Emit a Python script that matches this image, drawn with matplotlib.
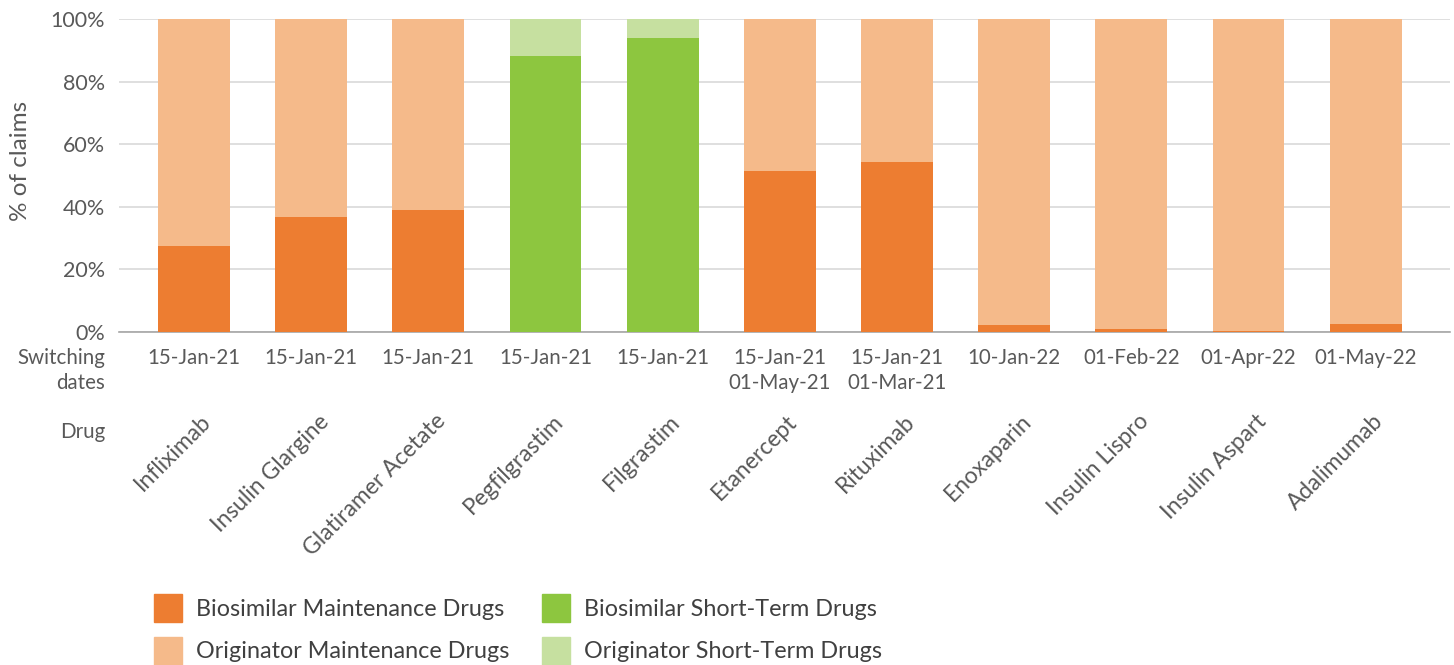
import matplotlib
matplotlib.use("Agg")
import matplotlib.pyplot as plt
from matplotlib.transforms import blended_transform_factory
from matplotlib.patches import Rectangle
import numpy as np

plt.rcParams['font.family'] = ['Lato', 'DejaVu Sans']

drugs = ["Infliximab", "Insulin Glargine", "Glatiramer Acetate", "Pegfilgrastim",
         "Filgrastim", "Etanercept", "Rituximab", "Enoxaparin", "Insulin Lispro",
         "Insulin Aspart", "Adalimumab"]
switch_dates = ["15-Jan-21", "15-Jan-21", "15-Jan-21", "15-Jan-21", "15-Jan-21",
                "15-Jan-21\n01-May-21", "15-Jan-21\n01-Mar-21", "10-Jan-22",
                "01-Feb-22", "01-Apr-22", "01-May-22"]
bio_maint = [27.5, 36.7, 39.0, 0, 0, 51.4, 54.3, 2.2, 1.0, 0.2, 2.5]
orig_maint = [72.5, 63.3, 61.0, 0, 0, 48.6, 45.7, 97.8, 99.0, 99.8, 97.5]
bio_short = [0, 0, 0, 88.2, 94.0, 0, 0, 0, 0, 0, 0]
orig_short = [0, 0, 0, 11.8, 6.0, 0, 0, 0, 0, 0, 0]

c_bm = "#ED7D31"
c_om = "#F5BA8A"
c_bs = "#8DC63F"
c_os = "#C6E0A0"
txt = "#595959"
txt_leg = "#404040"
FS = 14.8

W, H = 1454, 665
fig = plt.figure(figsize=(W/100, H/100), dpi=100)
ax = fig.add_axes([119/W, 1-332/H, (1450-119)/W, (332-19)/H])

x = np.arange(len(drugs))
bw = 0.614
bm = np.array(bio_maint); om = np.array(orig_maint)
bs = np.array(bio_short); os_ = np.array(orig_short)
ax.bar(x, bm, bw, color=c_bm, zorder=3)
ax.bar(x, om, bw, bottom=bm, color=c_om, zorder=3)
ax.bar(x, bs, bw, bottom=bm+om, color=c_bs, zorder=3)
ax.bar(x, os_, bw, bottom=bm+om+bs, color=c_os, zorder=3)

ax.set_xlim(-0.64, 10.72)
ax.set_ylim(0, 100)
ax.set_yticks(np.arange(0, 101, 20))
ax.set_yticklabels([f"{v}%" for v in range(0, 101, 20)])
ax.tick_params(axis='y', length=0, labelsize=15.5, colors=txt, pad=10)
ax.set_xticks([])
ax.grid(axis='y', color="#d9d9d9", lw=1.2, zorder=0)
for s in ['top', 'right', 'left']:
    ax.spines[s].set_visible(False)
ax.spines['bottom'].set_color("#a6a6a6")
ax.spines['bottom'].set_linewidth(1.2)
ax.spines['bottom'].set_zorder(2)
ax.set_ylabel("% of claims", fontsize=17.5, color=txt)
ax.yaxis.set_label_coords(-0.066, 0.546)

tr = blended_transform_factory(ax.transData, fig.transFigure)
ftr = fig.transFigure
def fy(py):
    return 1 - py/H

for i, (d, s) in enumerate(zip(drugs, switch_dates)):
    ax.text(i, fy(348), s, transform=tr, ha='center', va='top', fontsize=FS,
            color=txt, linespacing=1.3)
    ax.text(i + 0.12, fy(418), d, transform=tr, ha='right', va='center',
            rotation=45, rotation_mode='anchor', fontsize=16.5, color=txt)

fig.text(105/W, fy(348), "Switching\ndates", ha='right', va='top', fontsize=FS,
         color=txt, linespacing=1.3)
fig.text(105/W, fy(432), "Drug", ha='right', va='center', fontsize=FS, color=txt)

legend_items = [(154, 608, c_bm, "Biosimilar Maintenance Drugs"),
                (154, 651, c_om, "Originator Maintenance Drugs"),
                (542, 608, c_bs, "Biosimilar Short-Term Drugs"),
                (542, 651, c_os, "Originator Short-Term Drugs")]
for px, py, c, lab in legend_items:
    fig.patches.append(Rectangle((px/W, fy(py+14)), 28/W, 28/H, transform=ftr,
                                 color=c, figure=fig))
    fig.text((px+42)/W, fy(py+1), lab, ha='left', va='center', fontsize=16.8,
             color=txt_leg)

fig.savefig("out.png", dpi=100)
